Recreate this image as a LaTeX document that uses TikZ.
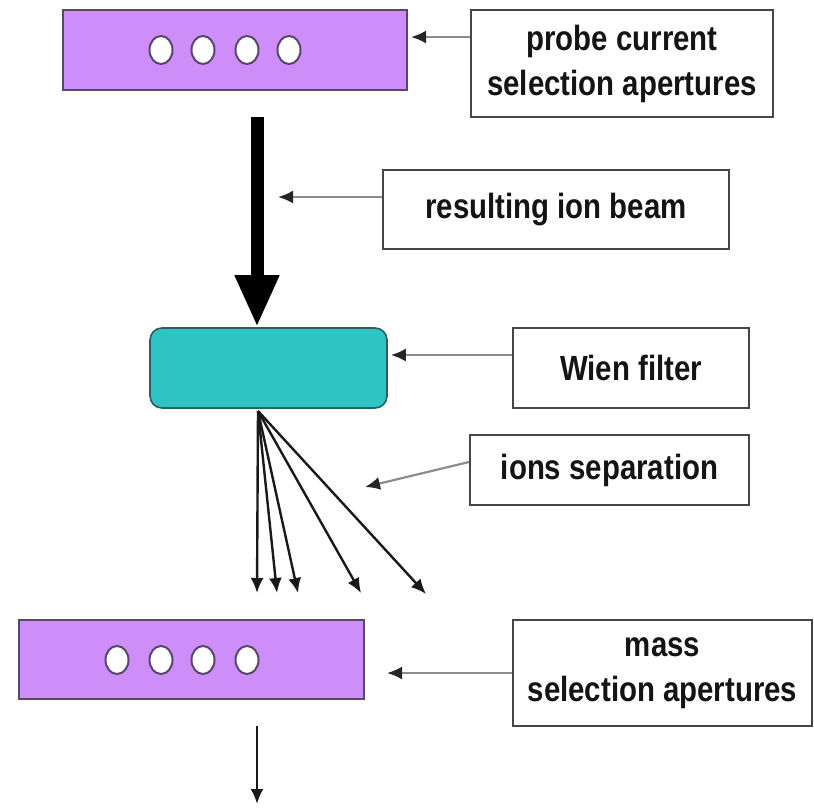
\documentclass[tikz,border=0pt]{standalone}
\usepackage{fontspec}
\newfontfamily\labfont[FakeStretch=0.84]{Liberation Sans}
\usetikzlibrary{shapes.geometric,arrows.meta,calc}
\definecolor{purp}{RGB}{205,142,250}
\definecolor{purpline}{RGB}{88,70,108}
\definecolor{teal2}{RGB}{46,196,196}
\definecolor{tealline}{RGB}{40,96,96}
\definecolor{boxline}{RGB}{70,70,70}
\definecolor{connline}{RGB}{140,140,140}
\begin{document}
\begin{tikzpicture}[x=1pt,y=-1pt,
  plate/.style={rectangle,draw=purpline,fill=purp,line width=2pt,inner sep=0pt},
  wien/.style={rectangle,rounded corners=12pt,draw=tealline,fill=teal2,line width=1.6pt,inner sep=0pt},
  hole/.style={ellipse,draw=purpline,fill=white,line width=2pt,minimum width=23pt,minimum height=28pt,inner sep=0pt},
  lab/.style={rectangle,draw=boxline,fill=white,line width=2pt,inner sep=0pt,align=center,
    font=\labfont\bfseries\fontsize{35pt}{45pt}\selectfont,text=black!92},
  conn/.style={draw=connline,line width=2.2pt,-{Latex[length=15pt,width=13pt,color=black!85]}},
  fanarrow/.style={draw=black!90,line width=2.4pt,-{Latex[length=15pt,width=13pt]}},
]
\useasboundingbox (0,0) rectangle (814,807);

% plates and filter
\node[plate,minimum width=344pt,minimum height=80pt] (top) at (235,50) {};
\node[hole] (h1) at (161,50) {};
\node[hole] (h2) at (203,50) {};
\node[hole] (h3) at (247,50) {};
\node[hole] (h4) at (289,50) {};

\node[wien,minimum width=237pt,minimum height=80pt] (wf) at (268.5,368) {};

\node[plate,minimum width=345pt,minimum height=79pt] (bot) at (191.5,659.5) {};
\node[hole] (h5) at (117,660) {};
\node[hole] (h6) at (161,660) {};
\node[hole] (h7) at (203,660) {};
\node[hole] (h8) at (247,660) {};

% labels
\node[lab,minimum width=302pt,minimum height=107pt] (l1) at (622,63.5) {probe current\\selection apertures};
\node[lab,minimum width=346pt,minimum height=79pt] (l2) at (556,209.5) {resulting ion beam};
\node[lab,minimum width=236pt,minimum height=80pt] (l3) at (631,368) {Wien filter};
\node[lab,minimum width=279pt,minimum height=70pt] (l4) at (609.5,470) {ions separation};
\node[lab,minimum width=299pt,minimum height=106pt] (l5) at (662.5,673) {mass\\selection apertures};

% free-end coordinates
\coordinate (beamtop) at (257,117);
\coordinate (beamtip) at (278,197);
\coordinate (septip) at (365,487);
\coordinate (masstip) at (387,673);
\coordinate (fan) at (258,411);
\coordinate (f1) at (257,593);
\coordinate (f2) at (277,593);
\coordinate (f3) at (298,593);
\coordinate (f4) at (361,593);
\coordinate (f5) at (426,594);
\coordinate (out1) at (257,726);
\coordinate (out2) at (257,804);

% thick beam
\draw[line width=13pt,-{Triangle[width=41pt,length=52pt]}] (beamtop) -- (beamtop |- wf.north);

% label connectors
\draw[conn] ([yshift=26.5pt]l1.west) -- ([yshift=13pt,xshift=3pt]top.east);
\draw[conn] ([yshift=12.5pt]l2.west) -- (beamtip);
\draw[conn] ([yshift=13pt]l3.west) -- ([yshift=13pt,xshift=3pt]wf.east);
\draw[conn] ([yshift=8pt]l4.west) -- (septip);
\draw[conn] (l5.west) -- (masstip);

% fan of separated ions
\draw[fanarrow] (fan) -- (f1);
\draw[fanarrow] (fan) -- (f2);
\draw[fanarrow] (fan) -- (f3);
\draw[fanarrow] (fan) -- (f4);
\draw[fanarrow] (fan) -- (f5);

% output beam
\draw[fanarrow] (out1) -- (out2);
\end{tikzpicture}
\end{document}
